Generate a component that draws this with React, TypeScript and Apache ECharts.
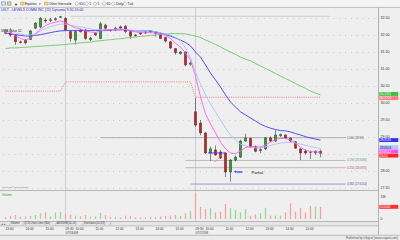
import React, { useEffect, useRef } from "react";
import * as echarts from "echarts";

// ---------------- data ----------------
const dates = ["07/15/08", "07/16/08", "07/17/08"];
const sessionTimes = [
  "09:30", "09:45", "10:00", "10:15", "10:30", "10:45", "11:00", "11:15", "11:30", "11:45",
  "12:00", "12:15", "12:30", "12:45", "13:00", "13:15", "13:30", "13:45", "14:00", "14:15",
  "14:30", "14:45", "15:00", "15:15", "15:30", "15:45",
];
const labeledTimes = ["09:30", "10:00", "11:00", "12:00", "13:00", "14:00", "15:00"];
const emptySlots = 11;

// [open, close, low, high]
const day1Candles = [
  [32.15, 32.05, 32.02, 32.17], [32.15, 32.0, 31.95, 32.2], [32.0, 31.8, 31.71, 32.02],
  [31.8, 31.78, 31.75, 31.84], [31.85, 31.77, 31.72, 31.88], [31.87, 32.12, 31.85, 32.15],
  [32.2, 32.35, 32.18, 32.38], [32.24, 32.49, 32.2, 32.53], [32.44, 32.41, 32.35, 32.5],
  [32.43, 32.45, 32.38, 32.5], [32.45, 32.48, 32.42, 32.52], [32.52, 32.54, 32.5, 32.56],
];
const day2Candles = [
  [32.49, 32.15, 32.12, 32.52], [32.1, 31.9, 31.8, 32.15], [31.85, 32.1, 31.72, 32.15],
  [32.15, 32.1, 32.07, 32.18], [32.15, 31.9, 31.85, 32.18], [31.86, 31.91, 31.82, 31.95],
  [32.05, 32.0, 31.97, 32.08], [31.9, 32.33, 31.88, 32.39], [32.29, 32.2, 32.15, 32.33],
  [32.15, 32.14, 32.1, 32.18], [32.15, 32.2, 32.12, 32.25], [32.24, 32.2, 32.15, 32.28],
  [32.26, 32.1, 32.05, 32.29], [32.1, 31.97, 31.88, 32.12], [32.0, 31.98, 31.95, 32.03],
  [32.06, 32.03, 32.0, 32.08], [32.06, 32.09, 32.03, 32.11], [32.12, 32.09, 32.06, 32.14],
  [32.08, 32.05, 31.95, 32.1], [32.03, 31.9, 31.88, 32.05], [31.93, 31.82, 31.78, 31.95],
  [31.8, 31.62, 31.58, 31.83], [31.6, 31.48, 31.42, 31.62], [31.45, 31.5, 31.42, 31.53],
  [31.5, 31.12, 31.08, 31.52], [31.14, 31.18, 31.1, 31.22],
];
const day3Candles = [
  [29.74, 29.35, 29.3, 30.15], [29.41, 29.12, 29.05, 29.5], [29.12, 28.53, 28.5, 29.15],
  [28.53, 28.65, 28.3, 28.72], [28.62, 28.47, 28.45, 28.75], [28.56, 28.38, 28.35, 28.62],
  [28.53, 27.97, 27.82, 28.55], [27.97, 28.32, 27.69, 28.35], [28.32, 28.41, 28.28, 28.45],
  [28.41, 28.88, 28.38, 28.92], [28.88, 28.97, 28.85, 29.1], [28.96, 28.7, 28.68, 28.98],
  [28.72, 28.58, 28.55, 28.75], [28.6, 28.63, 28.52, 28.7], [28.65, 28.97, 28.62, 29.0],
  [28.97, 28.88, 28.85, 29.02], [28.88, 29.06, 28.85, 29.2], [29.04, 29.07, 29.0, 29.1],
  [29.06, 28.97, 28.94, 29.08], [28.97, 28.88, 28.85, 28.98], [28.86, 28.67, 28.65, 28.88],
  [28.65, 28.53, 28.32, 28.68], [28.59, 28.53, 28.48, 28.63], [28.56, 28.55, 28.35, 28.6],
  [28.53, 28.58, 28.48, 28.61], [28.58, 28.52, 28.4, 28.63],
];

const day1Volume = [80000, 140000, 180000, 100000, 120000, 140000, 180000, 260000, 300000, 120000, 300000, 320000];
const day2Volume = [
  220000, 200000, 150000, 120000, 180000, 100000, 120000, 280000, 180000, 100000, 100000, 80000, 150000,
  140000, 80000, 70000, 80000, 100000, 90000, 120000, 140000, 160000, 180000, 140000, 260000, 360000,
];
const day3Volume = [
  1170000, 550000, 450000, 490000, 300000, 330000, 680000, 490000, 410000, 300000, 440000, 150000, 200000,
  260000, 510000, 150000, 150000, 150000, 300000, 710000, 330000, 500000, 300000, 590000, 560000, 551000,
];

const fastAvg = [
  32.12, 32.06, 31.97, 31.9, 31.85, 31.91, 32.03, 32.18, 32.28, 32.34, 32.38, 32.41, 32.37, 32.28, 32.21, 32.18,
  32.12, 32.09, 32.07, 32.12, 32.15, 32.15, 32.16, 32.18, 32.16, 32.12, 32.09, 32.07, 32.07, 32.07, 32.06, 32.03,
  31.99, 31.9, 31.76, 31.65, 31.47, 31.26, 30.79, 30.18, 29.68, 29.38, 29.12, 28.85, 28.65, 28.53, 28.51, 28.59,
  28.69, 28.72, 28.71, 28.71, 28.76, 28.85, 28.93, 28.96, 28.96, 28.91, 28.82, 28.69, 28.62, 28.57, 28.56, 28.55,
];
const midAvg = [
  32.15, 32.12, 32.07, 32.03, 32.0, 32.0, 32.04, 32.12, 32.19, 32.25, 32.29, 32.32, 32.32, 32.29, 32.26, 32.24,
  32.21, 32.18, 32.16, 32.16, 32.16, 32.16, 32.16, 32.16, 32.16, 32.15, 32.13, 32.12, 32.12, 32.12, 32.1, 32.07,
  32.03, 32.0, 31.93, 31.84, 31.62, 31.32, 30.91, 30.56, 30.24, 29.97, 29.74, 29.5, 29.26, 29.06, 28.91, 28.79,
  28.74, 28.69, 28.68, 28.68, 28.71, 28.75, 28.79, 28.82, 28.84, 28.84, 28.82, 28.79, 28.76, 28.72, 28.69, 28.66,
];
const slowAvg = [
  32.06, 32.04, 32.01, 31.99, 31.97, 31.97, 31.99, 32.01, 32.04, 32.07, 32.1, 32.12, 32.13, 32.13, 32.13, 32.13,
  32.13, 32.13, 32.13, 32.13, 32.13, 32.15, 32.15, 32.15, 32.15, 32.13, 32.12, 32.12, 32.12, 32.12, 32.09, 32.06,
  32.01, 31.97, 31.91, 31.85, 31.78, 31.68, 31.5, 31.35, 31.12, 30.88, 30.68, 30.47, 30.24, 30.03, 29.88, 29.74,
  29.65, 29.56, 29.47, 29.38, 29.31, 29.26, 29.22, 29.19, 29.18, 29.15, 29.1, 29.06, 29.01, 28.97, 28.94, 28.91,
];
const longAvg = [
  31.6, 31.62, 31.62, 31.63, 31.64, 31.65, 31.66, 31.67, 31.68, 31.69, 31.7, 31.71, 31.72, 31.74, 31.75, 31.77,
  31.78, 31.79, 31.82, 31.83, 31.85, 31.86, 31.88, 31.89, 31.91, 31.93, 31.94, 31.96, 31.97, 31.99, 32.0, 32.02,
  32.03, 32.04, 32.04, 32.04, 32.03, 32.0, 31.97, 31.93, 31.85, 31.79, 31.72, 31.65, 31.57, 31.5, 31.43, 31.35,
  31.29, 31.24, 31.16, 31.09, 31.02, 30.94, 30.87, 30.79, 30.72, 30.65, 30.57, 30.5, 30.43, 30.35, 30.29, 30.24,
];
const sessionPivot = [30.35, 30.62, 30.17];

const priceTicks = { min: 27.5, max: 32.5, step: 0.5 };
const volumeTicks = { max: 1270000, step: 1000000 };

const fibTop = { price: 32.55, from: 13, to: 65 };
const fibLabels = ["0.000 (28.98)", "0.190 (28.3093)", "0.250 (28.0975)", "0.382 (27.6154)"];
const fibPrices = [28.98, 28.3093, 28.0975, 27.6154];
const fibFrom = [19, 36, 36, 37];
const fibTo = 68;

const lastValueTexts = ["30.2351", "30.1700", "28.9131", "28.6624", "28.5512", "28.52"];
const lastValuePrices = [30.24, 30.17, 28.91, 28.66, 28.55, 28.52];
const lastVolumeText = "551000";

const titleText = "LVLT - LEVEL3 COMM INC (15) Dynamic 9:30-16:00";
const studyText = "SMA Value 52";

// ---------------- derived ----------------
const days = [day1Candles, day2Candles, day3Candles];
const dayVolumes = [day1Volume, day2Volume, day3Volume];
const categories: string[] = [];
days.forEach((d, di) => {
  const times = sessionTimes.slice(sessionTimes.length - d.length);
  times.forEach((t) => categories.push(`${di}|${t}`));
});
for (let k = 0; k < emptySlots; k++) categories.push(`f|${k}`);

const candles = days.flat();
const volumes = dayVolumes.flat();
const pivotLine = days.flatMap((d, di) => d.map(() => sessionPivot[di]));
const sessionStarts = [day1Candles.length, day1Candles.length + day2Candles.length];

const FONT = "Liberation Sans, Arial, sans-serif";
const UP = "#22b022";
const DOWN = "#ee1111";

function text(x: number, y: number, s: string, size: number, fill: string, align = "left", extra: any = {}) {
  return {
    type: "text", x, y, z: 30, silent: true,
    style: { text: s, fill, fontSize: size, fontFamily: FONT, align, verticalAlign: "middle", ...extra },
  };
}
function hline(x1: number, x2: number, y: number, stroke: string, dash: any = null, z = 1, w = 0.8) {
  return { type: "line", z, silent: true, shape: { x1, y1: y, x2, y2: y }, style: { stroke, lineWidth: w, lineDash: dash } };
}
function vline(x: number, y1: number, y2: number, stroke: string, z = 1) {
  return { type: "line", z, silent: true, shape: { x1: x, y1, x2: x, y2 }, style: { stroke, lineWidth: 0.8 } };
}
function arrow(x1: number, y1: number, x2: number, y2: number, stroke: string, dash: any, size: number) {
  const a = Math.atan2(y2 - y1, x2 - x1);
  const p1 = [x2 - size * Math.cos(a - 0.55), y2 - size * Math.sin(a - 0.55)];
  const p2 = [x2 - size * Math.cos(a + 0.55), y2 - size * Math.sin(a + 0.55)];
  return [
    { type: "line", z: 12, silent: true, shape: { x1, y1, x2, y2 }, style: { stroke, lineWidth: 0.8, lineDash: dash } },
    { type: "polyline", z: 12, silent: true, shape: { points: [p1, [x2, y2], p2] }, style: { stroke, lineWidth: 0.8, fill: null } },
  ];
}

function spread(ys: number[], h: number) {
  const out = ys.slice();
  const order = out.map((_, i) => i).sort((a, b) => out[a] - out[b]);
  for (let it = 0; it < 40; it++) {
    for (let k = 0; k < order.length - 1; k++) {
      const a = order[k], b = order[k + 1];
      const gap = out[b] - out[a];
      if (gap < h) {
        const d = (h - gap) / 2;
        out[a] -= d;
        out[b] += d;
      }
    }
  }
  return out;
}

// an axis label that sits under a last-value box is hidden, as in the reference
const coveredByBox = (v: number) => lastValuePrices.some((p) => Math.abs(p - v) < 0.06);

function buildGraphics(chart: any) {
  const px = (i: number) => chart.convertToPixel({ xAxisIndex: 0 }, i) as number;
  const x0 = px(0);
  const step = px(1) - x0;
  const xf = (f: number) => x0 + f * step;
  const py = (v: number) => chart.convertToPixel({ yAxisIndex: 0 }, v) as number;
  const pv = (v: number) => chart.convertToPixel({ yAxisIndex: 1 }, v) as number;
  const g: any[] = [];

  // toolbar
  g.push({ type: "rect", z: 20, silent: true, shape: { x: 0, y: 0, width: 400, height: 7 }, style: { fill: "#f5f5f5" } });
  g.push(hline(0, 400, 7.4, "#b4b4b4", null, 21));
  g.push({ type: "rect", z: 21, silent: true, shape: { x: 1.5, y: 1.8, width: 4, height: 3.4 }, style: { fill: "#dfe6f5", stroke: "#5a6a9a", lineWidth: 0.5 } });
  g.push({ type: "rect", z: 21, silent: true, shape: { x: 7.5, y: 1.8, width: 3.5, height: 3.4 }, style: { fill: "#cfe0c0", stroke: "#5a7a4a", lineWidth: 0.5 } });
  g.push(text(16, 3.6, "+", 5, "#111", "center", { fontWeight: "bold" }));
  g.push({ type: "rect", z: 21, silent: true, shape: { x: 20.5, y: 2, width: 3.6, height: 3 }, style: { fill: "#f2d878", stroke: "#b09030", lineWidth: 0.4 } });
  g.push(text(25, 3.7, "Equities", 3.3, "#222"));
  g.push(text(38.5, 3.7, "▾", 3.3, "#222"));
  g.push({ type: "rect", z: 21, silent: true, shape: { x: 44.5, y: 2, width: 3.6, height: 3 }, style: { fill: "#f2d878", stroke: "#b09030", lineWidth: 0.4 } });
  g.push(text(49, 3.7, "Other Intervals", 3.3, "#222"));
  g.push(text(70, 3.7, "▾", 3.3, "#222"));
  const radios: [number, string][] = [[76.7, "IDC"], [86.7, "1"], [95, "5"], [104, "60"], [113.3, "Daily"], [125, "Tick"]];
  radios.forEach(([x, s]) => {
    g.push({ type: "circle", z: 21, silent: true, shape: { cx: x, cy: 3.7, r: 1.6 }, style: { fill: "#fff", stroke: "#8a8a8a", lineWidth: 0.5 } });
    g.push(text(x + 2.6, 3.7, s, 3.3, "#222"));
  });

  // title and study label
  g.push(text(1, 10.3, titleText, 3.5, "#2a2ac0"));
  g.push(text(1, 31, studyText, 3.3, "#111", "left", { backgroundColor: "rgba(245,245,245,0.7)" }));

  // frame lines
  g.push(vline(378.5, 7.5, 235, "#a0a0a0", 25));
  g.push(hline(0, 378.5, 190.5, "#a8a8a8", null, 25));
  g.push(hline(0, 378.5, 221.5, "#a8a8a8", null, 25));
  g.push({ type: "rect", z: 24, silent: true, shape: { x: 0, y: 221.8, width: 378.3, height: 4 }, style: { fill: "#e6e6e6" } });
  g.push(hline(0, 378.5, 225.9, "#b8b8b8", null, 25));
  g.push(text(1, 223.9, "◂ ▸", 2.8, "#444"));
  const tabs: [number, string][] = [[11, "Volume"], [24, "QCS Chart Lines (Bar)"], [57, "ADX/DMI(14,14)"], [84, "Stochastic(14,3,3)"]];
  tabs.forEach(([x, s], i) => {
    g.push(text(x, 223.9, s, 2.6, "#333"));
    g.push({ type: "line", z: 26, silent: true, shape: { x1: x - 1.5, y1: 225.5, x2: x - 0.5, y2: 222.3 }, style: { stroke: "#888", lineWidth: 0.4 } });
    if (i === tabs.length - 1) g.push({ type: "line", z: 26, silent: true, shape: { x1: x + 26, y1: 225.5, x2: x + 27, y2: 222.3 }, style: { stroke: "#888", lineWidth: 0.4 } });
  });
  g.push({ type: "rect", z: 24, silent: true, shape: { x: 0, y: 235.3, width: 400, height: 4.7 }, style: { fill: "#ebebeb" } });
  g.push(hline(0, 400, 235.3, "#b0b0b0", null, 25));
  g.push(text(398, 237.8, "Published by eSignal (www.esignal.com)", 2.9, "#555", "right"));
  g.push(text(2, 187.2, "Copyright © 2008 eSignal", 2.3, "#777"));
  g.push(text(2, 194.3, "Volume", 3, "#3a9a3a"));

  // session separators
  sessionStarts.forEach((i) => g.push(vline(px(i), 8, 221.5, "#c6c6c6", 1)));

  // fib lines
  g.push(hline(px(fibTop.from), px(fibTop.to), py(fibTop.price), "#9a9a9a", [1, 1], 2));
  const fibLineColors = ["#a0a0a0", "#a8b0a8", "#c4a2a2", "#8282d2"];
  const fibTextColors = ["#555555", "#5a9a5a", "#a05050", "#4848b0"];
  fibPrices.forEach((p, i) => {
    const y = py(p);
    g.push(hline(px(fibFrom[i]), px(fibTo), y, fibLineColors[i], null, 2));
    g.push(text(px(fibTo) + 1.5, y - 0.6, fibLabels[i], 2.8, fibTextColors[i]));
  });

  // annotations
  const ySeg = py(28.53);
  g.push(hline(xf(40.5), xf(43.9), ySeg, "#3a3af0", null, 12, 0.9));
  g.push(...arrow(xf(41.86), py(28.27), xf(43.2), py(28.47), "#ff5050", [1, 0.8], 2));
  const yArr = py(27.98);
  g.push(...arrow(xf(47.4), yArr, xf(45.8), yArr, "#3a3af0", null, 1.8));
  g.push(hline(xf(46.2), xf(47.4), yArr + 0.9, "#3a3af0", null, 12, 0.6));
  g.push(text(xf(49.2), yArr + 0.5, "Partial", 4.1, "#111"));

  // right-axis value boxes (nudged apart so their texts do not collide)
  const boxColors = ["#3cbf3c", "#ff7a7a", "#3434ee", "#a8c8f6", "#ff4cff", "#ff2424"];
  const boxText = ["#ffffff", "#ffffff", "#ffffff", "#1a1a60", "#ffffff", "#ffffff"];
  const boxH = 3.9;
  const boxYs = spread(lastValuePrices.map(py), boxH + 0.3);
  lastValuePrices.forEach((_, i) => {
    const y = boxYs[i];
    g.push({ type: "rect", z: 40, silent: true, shape: { x: 379.3, y: y - boxH / 2, width: 19, height: boxH }, style: { fill: boxColors[i] } });
    g.push({ ...text(380, y + 0.1, lastValueTexts[i], 3.1, boxText[i]), z: 41 });
  });
  const yv = pv(volumes[volumes.length - 1]);
  g.push({ type: "rect", z: 40, silent: true, shape: { x: 379.3, y: yv - boxH / 2, width: 19, height: boxH }, style: { fill: "#ff3030" } });
  g.push({ ...text(380, yv + 0.1, lastVolumeText, 3.1, "#ffffff"), z: 41 });
  return g;
}

const option: any = {
  animation: false,
  backgroundColor: "#efefef",
  textStyle: { fontFamily: FONT },
  grid: [
    { left: 3, width: 375, top: 18, height: 170 },
    { left: 3, width: 375, top: 191, height: 28 },
  ],
  xAxis: [
    { type: "category", gridIndex: 0, data: categories, show: false },
    {
      type: "category", gridIndex: 1, data: categories,
      axisLine: { show: false }, axisTick: { show: false },
      axisLabel: {
        interval: 0, fontSize: 3.2, color: "#333", align: "left", margin: 7.6, lineHeight: 4,
        formatter: (val: string) => {
          const [d, t] = val.split("|");
          if (d === "f" || !labeledTimes.includes(t)) return "";
          if (t === "09:30") return `${t}\n${dates[Number(d)]}`;
          return t;
        },
      },
    },
  ],
  yAxis: [
    {
      type: "value", gridIndex: 0, position: "right", min: priceTicks.min, max: priceTicks.max, interval: priceTicks.step,
      axisLine: { show: false }, axisTick: { show: false },
      axisLabel: { fontSize: 3.6, color: "#333", margin: 2.5, formatter: (v: number) => (coveredByBox(v) ? "" : v.toFixed(2)) },
      splitLine: { show: true, lineStyle: { color: "#b8b8b8", type: [0.8, 5], width: 0.8 } },
    },
    {
      type: "value", gridIndex: 1, position: "right", min: 0, max: volumeTicks.max, interval: volumeTicks.step,
      axisLine: { show: false }, axisTick: { show: false }, splitLine: { show: false },
      axisLabel: { fontSize: 3.4, color: "#333", margin: 2.5, formatter: (v: number) => (v === 0 ? "0" : v === 1000000 ? "1M" : "") },
    },
  ],
  series: [
    {
      type: "candlestick", name: "LVLT", xAxisIndex: 0, yAxisIndex: 0, data: candles, barWidth: 3.4, clip: false, z: 3,
      itemStyle: { color: UP, color0: DOWN, borderColor: "#3a3a3a", borderColor0: "#3a3a3a", borderWidth: 0.6 },
    },
    { type: "line", name: "SMA", data: longAvg, symbol: "none", z: 4, lineStyle: { color: "#6cc86c", width: 0.9 } },
    { type: "line", name: "Pivot", data: pivotLine, symbol: "none", z: 4, lineStyle: { color: "#f07a7a", width: 0.9, type: [1.1, 1.1] } },
    { type: "line", name: "Slow", data: slowAvg, symbol: "none", z: 4, lineStyle: { color: "#3c3cf0", width: 0.9 } },
    { type: "line", name: "Mid", data: midAvg, symbol: "none", z: 4, lineStyle: { color: "#a6c4f4", width: 0.9 } },
    { type: "line", name: "Fast", data: fastAvg, symbol: "none", z: 4, lineStyle: { color: "#ff5cf4", width: 0.9 } },
    {
      type: "bar", name: "Volume", xAxisIndex: 1, yAxisIndex: 1, barWidth: 1.3,
      data: volumes.map((v, i) => ({ value: v, itemStyle: { color: candles[i][1] >= candles[i][0] ? "#98d898" : "#f4a2a2" } })),
    },
  ],
};

export default function App() {
  const ref = useRef<HTMLDivElement>(null);
  useEffect(() => {
    const chart = echarts.init(ref.current!, null, { renderer: "svg" });
    chart.setOption(option);
    chart.setOption({ graphic: buildGraphics(chart) });
    return () => chart.dispose();
  }, []);
  return <div ref={ref} style={{ position: "fixed", left: 0, top: 0, width: 400, height: 240 }} />;
}
